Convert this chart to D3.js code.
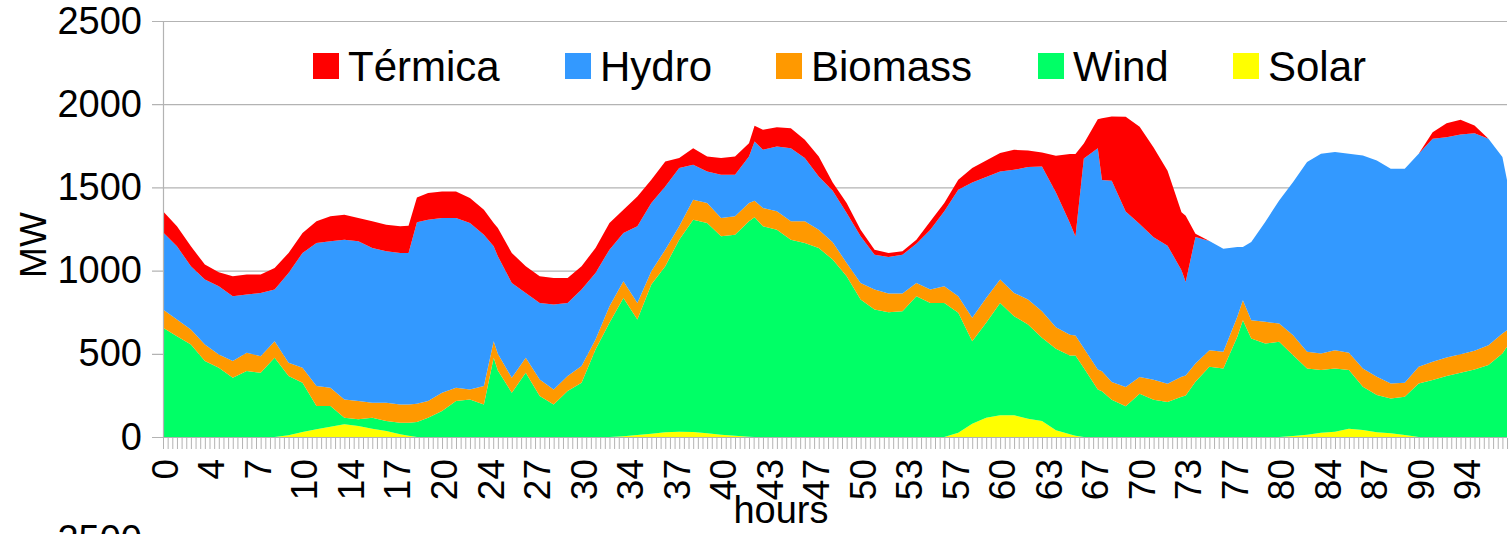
<!DOCTYPE html>
<html><head><meta charset="utf-8">
<script src="https://cdn.jsdelivr.net/npm/d3@7"></script>
<style>
body{margin:0;background:#fff}
svg{display:block}
text{font-family:"Liberation Sans",Arial,sans-serif;fill:#000}
</style>
</head><body>
<svg id="c" width="1512" height="534"></svg>
<script>
// ---- data ----
const hours = [0,1,2,3,4,5,6,7,8,9,10,11,12,13,14,15,16,17,17.6,18.2,19,20,21,22,23,23.7,24,25,26,27,28,29,30,31,32,33,34,35,36,37,38,39,40,41,42,42.4,43,44,45,46,47,48,49,50,51,52,53,54,55,56,57,58,59,60,61,62,63,64,65,65.4,66,67,67.3,68,69,70,71,72,73,73.3,74,75,76,77,77.4,78,79,80,81,82,83,84,85,86,87,88,89,90,91,92,93,94,95,96,96.33];
const solar = [0,0,0,0,0,0,0,0,0,10,30,46,62,76,66,50,36,16,8,0, 0,0,0,0,0, 0, 0,0,0,0,0,0,0,0,0, 4,12,20,28,32,30,22,14,8,2, 0, 0,0,0,0,0,0,0,0,0,0,0,0,0,0, 26,80,116,130,130,110,96,40,16, 8, 0,0, 0, 0,0,0,0,0,0, 0, 0,0,0,0, 0, 0,0,0, 6,14,26,32,50,42,28,22,12, 0,0,0,0,0,0,0, 0];
const wind = [656,606,556,456,416,356,396,386,476,356,296,140,124,40,40,66,60,70,78,90, 116,156,216,226,196, 476, 400,266,386,246,196,276,326,526,686, 832,694,896,998,1154,1276,1264,1192,1208,1294, 1320, 1266,1246,1186,1166,1136,1066,966,826,766,750,756,846,806,806, 720,496,570,676,596,566,500,490,474, 482, 414,285, 275, 224,185,260,224,210,242, 250, 332,422,412,602, 702, 592,562,572, 486,398,376,380,352,260,224,210,230, 322,342,366,386,406,432,502, 542];
const biomass = [110,100,90,100,80,100,110,100,100,80,90,120,110,110,110,90,110,110,110,110, 100,110,80,60,110, 100, 100,90,90,100,90,90,100,60,100, 100,100,80,100,80,120,120,110,110,110, 100, 110,110,110,130,110,104,80,100,120,112,106,80,80,100, 100,140,150,140,140,150,160,130,125, 120, 120,120, 120, 106,115,100,120,110,120, 120, 110,100,100,120, 120, 110,130,110, 120,100,100,110,104,110,110,90,84, 100,110,112,112,112,120,120, 100];
const hydro = [464,440,380,390,410,390,350,380,310,540,690,860,880,960,960,930,910,910,910,1090, 1090,1050,1020,1000,910, 570, 586,570,390,460,510,440,460,400,340, 290,460,410,380,350,210,190,260,250,280, 356, 350,390,440,380,320,310,300,280,210,220,234,236,360,450, 640,814,726,650,740,796,870,810,671, 595, 1140,1330, 1150, 1210,1055,920,856,830,640, 562, 760,656,620,420, 320, 470,600,740, 920,1140,1200,1190,1196,1280,1300,1290,1286, 1280,1340,1324,1320,1308,1240,1060, 903];
const termica = [126,120,120,90,84,120,120,110,130,120,120,130,150,150,140,160,160,160,164,150, 160,160,160,150,150, 140, 170,180,160,160,160,150,140,150,160, 140,180,140,150,60,100,90,100,110,80, 94, 120,116,120,110,120,50,60,40,30,24,20,24,50,50, 60,86,100,110,120,100,84,220,414, 495, 90,175, 370, 386,569,584,540,450,348, 398, 20,0,0,0, 0, 0,0,0, 0,0,0,0,0,0,0,0,0, 0,40,84,88,46,0,0, 0];
const seriesKeys = ["Solar","Wind","Biomass","Hydro","Térmica"];
const legendOrder = ["Térmica","Hydro","Biomass","Wind","Solar"];
const yTickValues = [0,500,1000,1500,2000,2500];
const xTickLabels = ["0","4","7","10","14","17","20","24","27","30","34","37","40","43","47","50","53","57","60","63","67","70","73","77","80","84","87","90","94"];

// ---- styles / layout ----
const colors = {"Térmica":"#ff0000","Hydro":"#3399ff","Biomass":"#ff9900","Wind":"#00ff66","Solar":"#ffff00"};
const L=163, R=1507, T=21, B=437;
const grid = "#b3b3b3";
const svg = d3.select("#c");

const x = d3.scaleLinear().domain([0, 96.33]).range([L, R]);
const y = d3.scaleLinear().domain([0, 2500]).range([B, T]);

const rows = hours.map((h,i)=>({h, "Solar":solar[i], "Wind":wind[i], "Biomass":biomass[i], "Hydro":hydro[i], "Térmica":termica[i]}));
const stacked = d3.stack().keys(seriesKeys)(rows);

// gridlines
svg.append("g").selectAll("line").data(yTickValues).join("line")
  .attr("x1", L-11).attr("x2", R).attr("y1", d=>y(d)+0.5).attr("y2", d=>y(d)+0.5)
  .attr("stroke", grid).attr("stroke-width", 1.2);

// areas
const area = d3.area().x(d=>x(d.data.h)).y0(d=>y(d[0])).y1(d=>y(d[1]));
svg.append("g").selectAll("path").data(stacked).join("path")
  .attr("d", area).attr("fill", d=>colors[d.key]);

// axis lines
svg.append("line").attr("x1", L+0.5).attr("x2", L+0.5).attr("y1", T).attr("y2", B+1)
  .attr("stroke", grid).attr("stroke-width", 1.2);
svg.append("line").attr("x1", L-11).attr("x2", R).attr("y1", B+0.5).attr("y2", B+0.5)
  .attr("stroke", grid).attr("stroke-width", 1.2);

// y labels
const yAxis = svg.append("g").attr("transform", `translate(${L},0)`)
  .call(d3.axisLeft(y).tickValues(yTickValues).tickSize(0).tickPadding(21).tickFormat(d3.format("d")));
yAxis.select(".domain").remove();
yAxis.selectAll("text").attr("font-size", 38).attr("font-family", '"Liberation Sans",Arial,sans-serif').attr("fill","#000");

// x minor ticks (every category = 20 min)
const minor = d3.range(0, 290).map(i=>i/3);
const xAxis = svg.append("g").attr("transform", `translate(0,${B+1})`)
  .call(d3.axisBottom(x).tickValues(minor).tickSize(11).tickFormat(""));
xAxis.select(".domain").remove();
xAxis.selectAll("line").attr("stroke", grid).attr("stroke-width", 1);

// x labels
svg.append("g").selectAll("text").data(xTickLabels).join("text")
  .attr("transform", (d,i)=>`translate(${x(i*10/3)+2},459) rotate(-90)`)
  .attr("text-anchor","end").attr("dy","0.35em").attr("font-size",37).text(d=>d);

// axis titles
svg.append("text").attr("x", 781).attr("y", 523).attr("text-anchor","middle").attr("font-size",38).text("hours");
svg.append("text").attr("transform","translate(33,245) rotate(-90)").attr("text-anchor","middle").attr("dy","0.35em").attr("font-size",37).text("MW");
// top label of the next chart, cut by the frame as in the reference
svg.append("text").attr("x", 142).attr("y", 552).attr("text-anchor","end").attr("font-size",38).text("2500");

// legend
const legX = {"Térmica":313,"Hydro":565,"Biomass":776,"Wind":1038,"Solar":1233};
const leg = svg.append("g").selectAll("g").data(legendOrder).join("g")
  .attr("transform", d=>`translate(${legX[d]},53)`);
leg.append("rect").attr("width",26).attr("height",26).attr("fill", d=>colors[d]);
leg.append("text").attr("x",35).attr("y",27.5).attr("font-size",42).text(d=>d);
</script>
</body></html>
